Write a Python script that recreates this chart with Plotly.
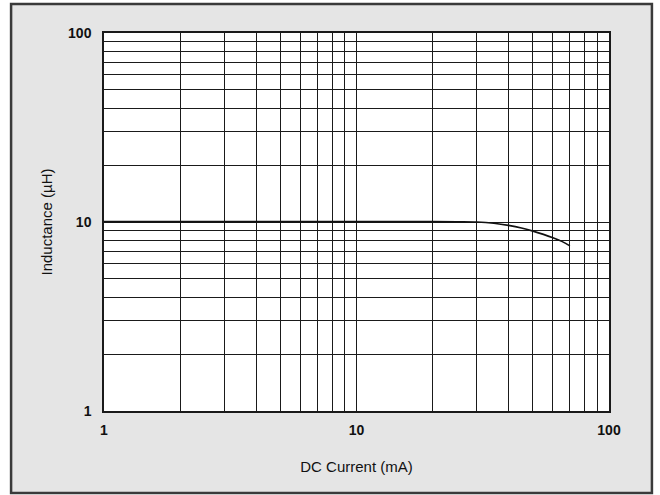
import numpy as np
import plotly.graph_objects as go

# DC bias curve (log-log)
current_ma = [1, 2, 5, 10, 15, 20, 25, 30, 35, 40, 45, 50, 55, 60, 65, 70]
inductance_uh = [10.05, 10.05, 10.05, 10.05, 10.05, 10.05, 10.03, 10.0, 9.85, 9.6, 9.3, 8.95, 8.6, 8.25, 7.9, 7.48]

x_title = "DC Current (mA)"
y_title = "Inductance (µH)"

grid = "#1a1a1a"
font_family = "Liberation Sans, Arial, sans-serif"


def axisStyle(title, standoff):
    return dict(
        type="log", range=[0, 2], dtick=1,
        showgrid=True, gridcolor=grid, gridwidth=1.3,
        minor=dict(dtick="D1", showgrid=True, gridcolor=grid, gridwidth=1.3, ticks=""),
        showline=True, mirror=True, linecolor=grid, linewidth=1.5,
        ticks="", zeroline=False, ticklabelstandoff=standoff,
        tickfont=dict(family=font_family, size=14, color="#111", weight="bold"),
        title=dict(text=title, font=dict(family=font_family, size=15, color="#111")),
    )


fig = go.Figure()
fig.add_trace(go.Scatter(x=current_ma, y=inductance_uh, mode="lines",
                         line=dict(color="#111", width=1.6, shape="spline"),
                         showlegend=False, hoverinfo="skip"))

fig.update_layout(
    width=660, height=495,
    margin=dict(l=104, r=51, t=33, b=84),
    paper_bgcolor="white", plot_bgcolor="white",
    xaxis=axisStyle(x_title, 5),
    yaxis=axisStyle(y_title, 8),
    shapes=[
        # grey panel with dark frame around the whole chart
        dict(type="rect", xref="paper", yref="paper", layer="below",
             x0=-0.184, x1=1.085, y0=-0.217, y1=1.077,
             fillcolor="#e5e5e5", line=dict(color="#3a3a3a", width=2.5)),
        # white plotting area on top of the grey panel
        dict(type="rect", xref="paper", yref="paper", layer="below",
             x0=0, x1=1, y0=0, y1=1, fillcolor="white", line=dict(width=0)),
    ],
)
fig.update_xaxes(title_standoff=25)
fig.update_yaxes(title_standoff=12)

fig.write_html("out.html", config={"displayModeBar": False},
               post_script="document.body.style.margin='0';")
